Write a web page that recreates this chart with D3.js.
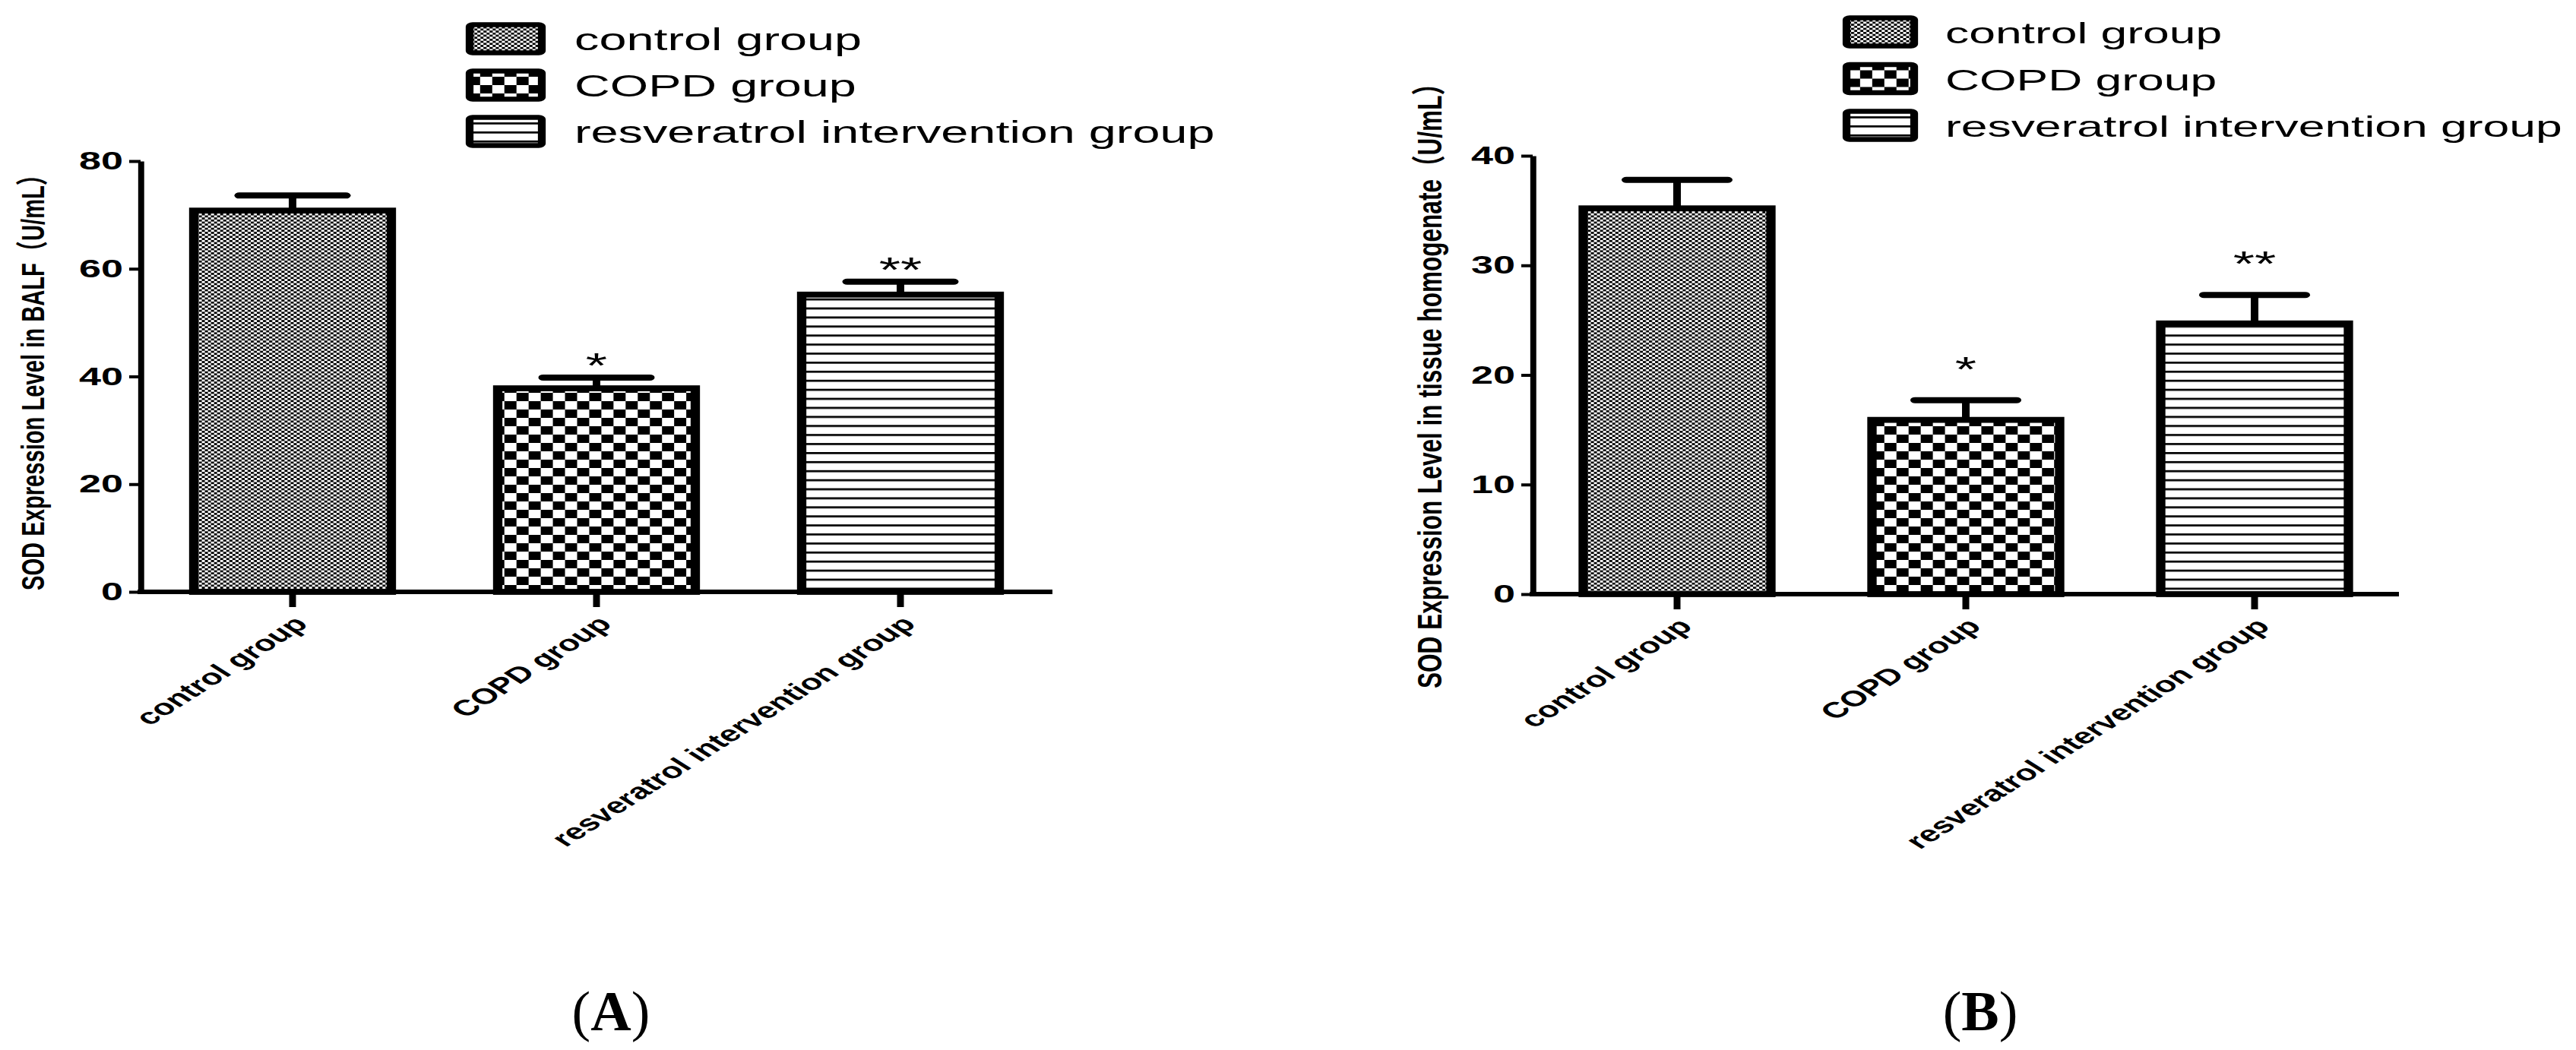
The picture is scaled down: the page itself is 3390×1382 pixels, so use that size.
<!DOCTYPE html>
<html lang="en">
<head>
<meta charset="utf-8">
<title>SOD expression</title>
<script src="https://cdn.jsdelivr.net/npm/d3@7"></script>
<style>
  body { margin: 0; background: #fff; }
  svg { display: block; font-family: "Liberation Sans", Arial, "Noto Sans CJK SC", sans-serif; }
  .tick text { fill: #000; }
</style>
</head>
<body>
<div id="chart"></div>
<script>

// data
var groups = ["control group", "COPD group", "resveratrol intervention group"];
var balfMean = [70.8, 37.8, 55.2];
var balfErr = [2.8, 2.0, 2.4];
var tissueMean = [35.2, 15.9, 24.7];
var tissueErr = [2.6, 1.8, 2.6];
var stars = ["", "*", "**"];
var balfTicks = [0, 20, 40, 60, 80];
var tissueTicks = [0, 10, 20, 30, 40];
var balfTitle = "SOD Expression Level in BALF（U/mL）";
var tissueTitle = "SOD Expression Level in tissue homogenate（U/mL）";
var patterns = ["patFine", "patCheck", "patStripe"];

// the original image is stretched horizontally, so each panel is drawn
// in its own space and scaled in x
var S = 1.58;

var panels = [
  {tag: "A", mean: balfMean, err: balfErr, ticks: balfTicks, max: 80, title: balfTitle,
   axisX: 185, axisEnd: 1385, y0: 779, yTop: 212,
   titleX: 58, titleY: 496, titleLen: 562, titleSize: 27,
   legX: 618, legW: 95, legTextX: 756, legTop: 51, legStep: 61, legFont: 41,
   starGap: 0, tagX: 804},
  {tag: "B", mean: tissueMean, err: tissueErr, ticks: tissueTicks, max: 40, title: tissueTitle,
   axisX: 2017, axisEnd: 3157, y0: 782, yTop: 205,
   titleX: 1897, titleY: 500, titleLen: 812, titleSize: 28.5,
   legX: 2430, legW: 89, legTextX: 2560, legTop: 42, legStep: 61.5, legFont: 39.5,
   starGap: 25, tagX: 2606}
];

var svg = d3.select("#chart")
  .append("svg")
  .attr("width", 3390)
  .attr("height", 1382);

svg.append("rect").attr("width", 3390).attr("height", 1382).attr("fill", "#fff");

// fill patterns
var defs = svg.append("defs");

var fine = defs.append("pattern").attr("id", "patFine")
  .attr("patternUnits", "userSpaceOnUse").attr("width", 5.1).attr("height", 5.4);
fine.append("rect").attr("width", 5.1).attr("height", 5.4).attr("fill", "#fff");
fine.append("rect").attr("width", 2.55).attr("height", 2.7).attr("fill", "#000");
fine.append("rect").attr("x", 2.55).attr("y", 2.7).attr("width", 2.55).attr("height", 2.7).attr("fill", "#000");

var check = defs.append("pattern").attr("id", "patCheck")
  .attr("patternUnits", "userSpaceOnUse").attr("width", 20.2).attr("height", 22);
check.append("rect").attr("width", 20.2).attr("height", 22).attr("fill", "#fff");
check.append("rect").attr("width", 10.1).attr("height", 11).attr("fill", "#000");
check.append("rect").attr("x", 10.1).attr("y", 11).attr("width", 10.1).attr("height", 11).attr("fill", "#000");

var stripe = defs.append("pattern").attr("id", "patStripe")
  .attr("patternUnits", "userSpaceOnUse").attr("width", 10).attr("height", 11.9);
stripe.append("rect").attr("width", 10).attr("height", 11.9).attr("fill", "#fff");
stripe.append("rect").attr("width", 10).attr("height", 2.7).attr("fill", "#000");

panels.forEach(function(p) {

  var g = svg.append("g")
    .attr("transform", "translate(" + p.axisX + ",0) scale(" + S + ",1)");

  var xScale = d3.scaleBand()
    .domain(groups)
    .range([0, (p.axisEnd - p.axisX) / S])
    .paddingInner(0.35)
    .paddingOuter(0.175);

  var yScale = d3.scaleLinear()
    .domain([0, p.max])
    .range([p.y0, p.yTop]);

  var bw = xScale.bandwidth();

  // bars
  g.selectAll(".bar")
    .data(groups)
    .enter()
    .append("rect")
    .attr("class", "bar")
    .attr("x", function(d) { return xScale(d); })
    .attr("y", function(d, i) { return yScale(p.mean[i]); })
    .attr("width", bw)
    .attr("height", function(d, i) { return yScale(0) - yScale(p.mean[i]); })
    .attr("fill", function(d, i) { return "url(#" + patterns[i] + ")"; })
    .attr("stroke", "#000")
    .attr("stroke-width", 7.8);

  // error bars (upper only)
  g.selectAll(".stem")
    .data(groups)
    .enter()
    .append("line")
    .attr("x1", function(d) { return xScale(d) + bw / 2; })
    .attr("x2", function(d) { return xScale(d) + bw / 2; })
    .attr("y1", function(d, i) { return yScale(p.mean[i]) - 3; })
    .attr("y2", function(d, i) { return yScale(p.mean[i] + p.err[i]); })
    .attr("stroke", "#000")
    .attr("stroke-width", 6.3);

  g.selectAll(".cap")
    .data(groups)
    .enter()
    .append("line")
    .attr("x1", function(d) { return xScale(d) + bw / 2 - bw * 0.27; })
    .attr("x2", function(d) { return xScale(d) + bw / 2 + bw * 0.27; })
    .attr("y1", function(d, i) { return yScale(p.mean[i] + p.err[i]); })
    .attr("y2", function(d, i) { return yScale(p.mean[i] + p.err[i]); })
    .attr("stroke", "#000")
    .attr("stroke-width", 8)
    .attr("stroke-linecap", "round");

  // significance marks
  g.selectAll(".star")
    .data(groups)
    .enter()
    .append("text")
    .attr("x", function(d) { return xScale(d) + bw / 2; })
    .attr("y", function(d, i) { return yScale(p.mean[i] + p.err[i]) - p.starGap; })
    .attr("text-anchor", "middle")
    .style("font-size", "46px")
    .text(function(d, i) { return stars[i]; });

  // y axis
  var yAxis = g.append("g")
    .call(d3.axisLeft(yScale).tickValues(p.ticks).tickSize(9.5).tickSizeOuter(0).tickPadding(5));
  yAxis.attr("font-family", null).attr("font-size", null);
  yAxis.select(".domain").attr("stroke", "#000").attr("stroke-width", 5);
  yAxis.selectAll(".tick line").attr("stroke", "#000").attr("stroke-width", 4);
  yAxis.selectAll(".tick text")
    .style("font-size", "33px")
    .style("font-weight", "700");

  // x axis
  var xAxis = g.append("g")
    .attr("transform", "translate(0," + yScale(0) + ")")
    .call(d3.axisBottom(xScale).tickSize(20).tickSizeOuter(0));
  xAxis.attr("font-family", null).attr("font-size", null);
  xAxis.select(".domain").attr("stroke", "#000").attr("stroke-width", 6)
    .attr("d", "M-2.5,0H" + ((p.axisEnd - p.axisX) / S));
  xAxis.selectAll(".tick line").attr("stroke", "#000").attr("stroke-width", 5.7);
  xAxis.selectAll(".tick text")
    .attr("x", 0).attr("y", 0).attr("dy", 0)
    .attr("transform", "translate(14,44) rotate(-45)")
    .attr("text-anchor", "end")
    .style("font-size", "29px")
    .style("font-weight", "700");

  // y axis title
  g.append("text")
    .attr("transform", "translate(" + ((p.titleX - p.axisX) / S) + "," + p.titleY + ") rotate(-90)")
    .attr("text-anchor", "middle")
    .attr("textLength", p.titleLen)
    .attr("lengthAdjust", "spacingAndGlyphs")
    .style("font-size", p.titleSize + "px")
    .style("font-weight", "700")
    .text(p.title);

  // legend
  var leg = g.selectAll(".leg")
    .data(groups)
    .enter()
    .append("g")
    .attr("transform", function(d, i) { return "translate(0," + (p.legTop + i * p.legStep) + ")"; });

  leg.append("rect")
    .attr("x", (p.legX - p.axisX) / S)
    .attr("y", -18.5)
    .attr("width", p.legW / S)
    .attr("height", 37)
    .attr("rx", 2.5)
    .attr("fill", function(d, i) { return "url(#" + patterns[i] + ")"; })
    .attr("stroke", "#000")
    .attr("stroke-width", 6.5);

  leg.append("text")
    .attr("x", (p.legTextX - p.axisX) / S)
    .attr("y", 15)
    .style("font-size", p.legFont + "px")
    .text(function(d) { return d; });

  // panel tag
  var tag = svg.append("text")
    .attr("x", p.tagX)
    .attr("y", 1356)
    .attr("text-anchor", "middle")
    .style("font-family", "'Liberation Serif', 'Times New Roman', serif")
    .style("font-size", "74px");
  tag.append("tspan").text("(");
  tag.append("tspan").style("font-weight", "700").text(p.tag);
  tag.append("tspan").text(")");
});

</script>
</body>
</html>
